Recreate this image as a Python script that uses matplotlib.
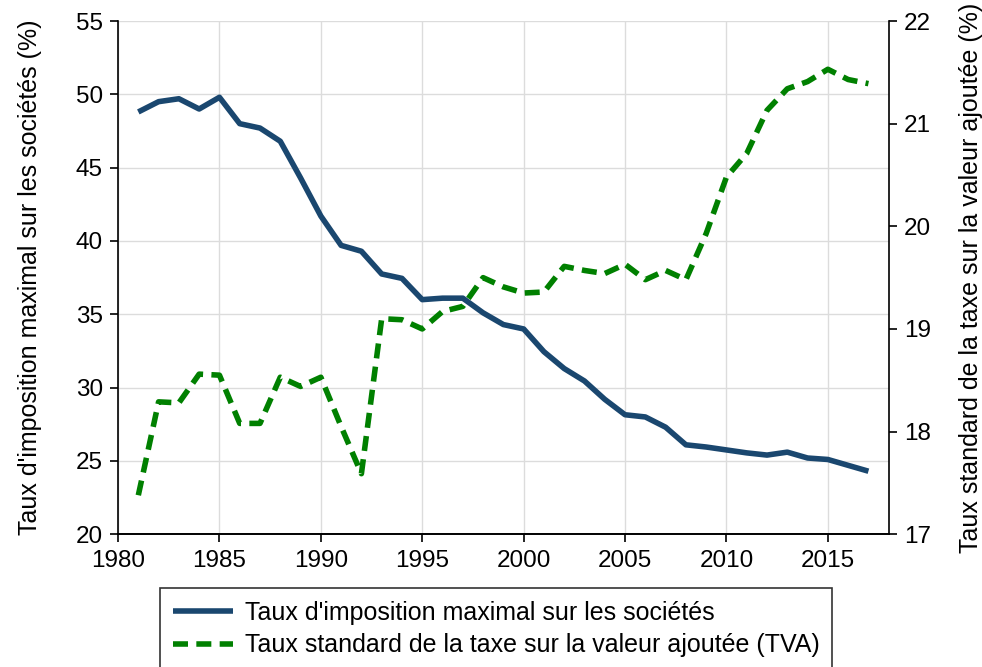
import matplotlib.pyplot as plt

plt.rcParams['font.family'] = ['Liberation Sans', 'DejaVu Sans']

# Données
annees = list(range(1981, 2018))
impot_societes = [48.8, 49.5, 49.7, 49.0, 49.8, 48.0, 47.7, 46.8, 44.3, 41.7,
                  39.7, 39.3, 37.75, 37.45, 36.0, 36.1, 36.1, 35.1, 34.3, 34.0,
                  32.45, 31.3, 30.45, 29.2, 28.15, 28.0, 27.3, 26.1, 25.95, 25.75,
                  25.55, 25.4, 25.6, 25.2, 25.1, 24.7, 24.3]
tva = [17.38, 18.29, 18.28, 18.56, 18.55, 18.08, 18.08, 18.53, 18.44, 18.53,
       18.05, 17.59, 19.1, 19.09, 19.0, 19.17, 19.22, 19.5, 19.41, 19.35,
       19.36, 19.61, 19.57, 19.54, 19.63, 19.48, 19.57, 19.48, 19.93, 20.48,
       20.71, 21.13, 21.34, 21.41, 21.53, 21.43, 21.39]

ticks_x = list(range(1980, 2020, 5))
ticks_gauche = list(range(20, 60, 5))
ticks_droite = list(range(17, 23))

bleu = '#1a476f'
vert = '#008000'

fig = plt.figure(figsize=(9.82, 6.67), dpi=100)
ax = fig.add_axes([0.1202, 0.199, 0.7848, 0.7695])
ax2 = ax.twinx()

l1, = ax.plot(annees, impot_societes, color=bleu, lw=4, solid_capstyle='butt',
              label="Taux d'imposition maximal sur les sociétés")
l2, = ax2.plot(annees, tva, color=vert, lw=4, dashes=(2.7, 1.5),
               label="Taux standard de la taxe sur la valeur ajoutée (TVA)")

ax.set_xlim(1980, 2018)
ax.set_ylim(20, 55)
ax2.set_ylim(17, 22)
ax.set_xticks(ticks_x)
ax.set_yticks(ticks_gauche)
ax2.set_yticks(ticks_droite)

ax.grid(True, color='#dcdcdc', lw=1)
ax.set_axisbelow(True)

for a in (ax, ax2):
    a.spines['top'].set_visible(False)
    for s in a.spines.values():
        s.set_linewidth(1.2)
    a.tick_params(labelsize=17.5, length=6, width=1.2, direction='out', pad=5)
ax2.spines['left'].set_visible(False)
ax.spines['right'].set_visible(False)

ax.set_ylabel("Taux d'imposition maximal sur les sociétés (%)", fontsize=18, labelpad=24)
ax2.set_ylabel("Taux standard de la taxe sur la valeur ajoutée (%)", fontsize=18, labelpad=20)

leg = fig.legend(handles=[l1, l2], loc='upper left', bbox_to_anchor=(0.163, 0.1184),
                 fontsize=18, frameon=True, fancybox=False, handlelength=2.4,
                 handletextpad=0.5, borderpad=0.5, labelspacing=0.35, borderaxespad=0)
leg.get_frame().set_edgecolor('black')
leg.get_frame().set_linewidth(1.2)

plt.savefig('out.png', dpi=100)
